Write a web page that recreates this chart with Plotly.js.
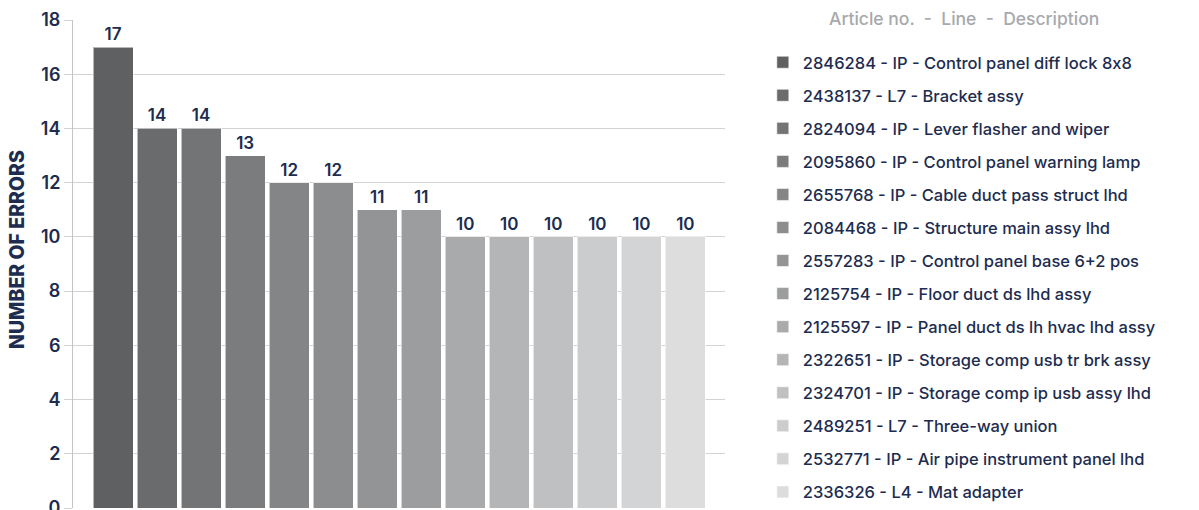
<!DOCTYPE html>
<html>
<head>
<meta charset="utf-8">
<script src="https://cdn.plot.ly/plotly-3.0.1.min.js"></script>
<style>html,body{margin:0;padding:0;background:#fff;}#chart{width:1199px;height:510px;}</style>
</head>
<body>
<div id="chart"></div>
<script>
const articles = ["2846284","2438137","2824094","2095860","2655768","2084468","2557283","2125754","2125597","2322651","2324701","2489251","2532771","2336326"];
const lines = ["IP","L7","IP","IP","IP","IP","IP","IP","IP","IP","IP","L7","IP","L4"];
const descriptions = ["Control panel diff lock 8\u200Cx\u200C8","Bracket assy","Lever flasher and wiper","Control panel warning lamp","Cable duct pass struct lhd","Structure main assy lhd","Control panel base 6+2 pos","Floor duct ds lhd assy","Panel duct ds lh hvac lhd assy","Storage comp usb tr brk assy","Storage comp ip usb assy lhd","Three-way union","Air pipe instrument panel lhd","Mat adapter"];
const errors = [17,14,14,13,12,12,11,11,10,10,10,10,10,10];
const colors = ["#5f6062","#6a6b6c","#737475","#7b7c7d","#848586","#8c8d8e","#939495","#9c9d9e","#a9aaab","#b4b5b6","#bfc0c1","#cbcccd","#d3d4d5","#dcdddc"];
const legendTitle = "Article no.  -  Line  -  Description";
const yTitle = "NUMBER OF ERRORS";

const navy = "#1d2c4f";
const font = "Inter, Liberation Sans, Arial, sans-serif";

const traces = articles.map((a, i) => ({
  type: "bar",
  x: [a],
  y: [errors[i]],
  name: a + " - " + lines[i] + " - " + descriptions[i],
  legendgroup: "g" + i,
  marker: {color: colors[i], line: {color: "rgba(255,255,255,0.55)", width: 1}},
  text: [String(errors[i])],
  textposition: "outside",
  textfont: {size: 17, color: navy, family: font, weight: 600},
  cliponaxis: false,
  hoverinfo: "skip"
}));

const layout = {
  width: 1199, height: 510,
  margin: {l: 73, r: 474, t: 20, b: 2, pad: 0},
  paper_bgcolor: "#ffffff", plot_bgcolor: "#ffffff",
  font: {family: font, color: navy},
  barmode: "stack",
  bargap: 0.09,
  showlegend: true,
  xaxis: {
    type: "category",
    categoryorder: "array", categoryarray: articles,
    range: [-0.91, 13.9],
    showticklabels: false, showgrid: false, zeroline: false, showline: false, ticks: ""
  },
  yaxis: {
    range: [0, 18], dtick: 2, tick0: 0,
    showgrid: true, gridcolor: "#d3d3d3", gridwidth: 1,
    zeroline: false,
    showline: true, linecolor: "#c4c4c4", linewidth: 1,
    ticks: "outside", ticklen: 8, tickcolor: "#d3d3d3",
    ticklabeloverflow: "allow",
    tickfont: {size: 18, color: navy, family: font, weight: 600}
  },
  legend: {
    x: 1.058, xanchor: "left",
    y: 0.9385, yanchor: "top",
    traceorder: "grouped",
    tracegroupgap: 8.6,
    maxheight: 1,
    font: {size: 16.5, color: navy, family: font, weight: 500},
    itemwidth: 30,
    bgcolor: "rgba(0,0,0,0)"
  },
  annotations: [{
    xref: "paper", yref: "paper", x: 1.157, y: 1.0, xanchor: "left", yanchor: "middle",
    yshift: 2,
    text: legendTitle, showarrow: false,
    font: {size: 17.5, color: "#a7a9ac", family: font, weight: 500}
  }, {
    xref: "paper", yref: "paper",
    x: (17 - 73) / 652, y: (508 - 250) / 488,
    xanchor: "center", yanchor: "middle", textangle: -90,
    text: yTitle, showarrow: false,
    font: {size: 19.5, color: navy, family: font, weight: 800}
  }]
};

Plotly.newPlot("chart", traces, layout, {displayModeBar: false, staticPlot: true});
</script>
</body>
</html>
